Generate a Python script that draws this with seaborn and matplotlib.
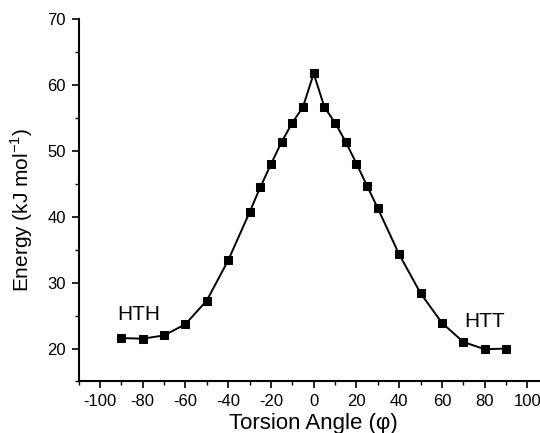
import pandas as pd
import matplotlib
matplotlib.use("Agg")
import matplotlib.pyplot as plt
import seaborn as sns
from matplotlib.ticker import MultipleLocator

# Torsion scan values
angle = [-90, -80, -70, -60, -50, -40, -30, -25, -20, -15, -10, -5, 0,
         5, 10, 15, 20, 25, 30, 40, 50, 60, 70, 80, 90]
energy = [21.6, 21.5, 22.0, 23.7, 27.3, 33.4, 40.7, 44.5, 48.0, 51.4, 54.3, 56.7, 61.8,
          56.7, 54.3, 51.4, 48.1, 44.7, 41.3, 34.3, 28.4, 23.9, 21.0, 19.9, 20.0]
x_ticks = [-100, -80, -60, -40, -20, 0, 20, 40, 60, 80, 100]
y_ticks = [20, 30, 40, 50, 60, 70]

df = pd.DataFrame({'angle': angle, 'energy': energy})

sns.set_style('ticks')
plt.rcParams['font.family'] = ['Liberation Sans', 'DejaVu Sans']
plt.rcParams['axes.unicode_minus'] = False
plt.rcParams['text.color'] = 'black'
plt.rcParams['axes.labelcolor'] = 'black'

fig = plt.figure(figsize=(5.4, 4.33), dpi=100)
ax = fig.add_axes([0.1454, 0.119, 0.871, 0.836])

sns.lineplot(data=df, x='angle', y='energy', ax=ax, color='black',
             marker='s', markersize=5.5, markeredgecolor='black',
             linewidth=1.4)

ax.set_xlim(-110, 110)
ax.set_ylim(15, 70)
ax.set_xticks(x_ticks)
ax.set_yticks(y_ticks)
ax.xaxis.set_minor_locator(MultipleLocator(10))
ax.yaxis.set_minor_locator(MultipleLocator(5))
ax.tick_params(which='major', direction='out', length=5, width=1.2,
               labelsize=12, colors='black', pad=4)
ax.tick_params(which='minor', direction='out', length=3, width=1.0, colors='black')

for side in ['top', 'right']:
    ax.spines[side].set_visible(False)
for side in ['left', 'bottom']:
    ax.spines[side].set_linewidth(1.5)
    ax.spines[side].set_color('black')

ax.set_xlabel('Torsion Angle (\u03c6)', fontsize=16, labelpad=3)
ax.set_ylabel('Energy (kJ mol$^{\\mathregular{-1}}$)', fontsize=15)
ax.yaxis.set_label_coords(-0.092, 0.474)

ax.text(-82, 25.1, 'HTH', fontsize=15, ha='center', va='center')
ax.text(80, 24.1, 'HTT', fontsize=15, ha='center', va='center')

fig.savefig('out.png', dpi=100)
